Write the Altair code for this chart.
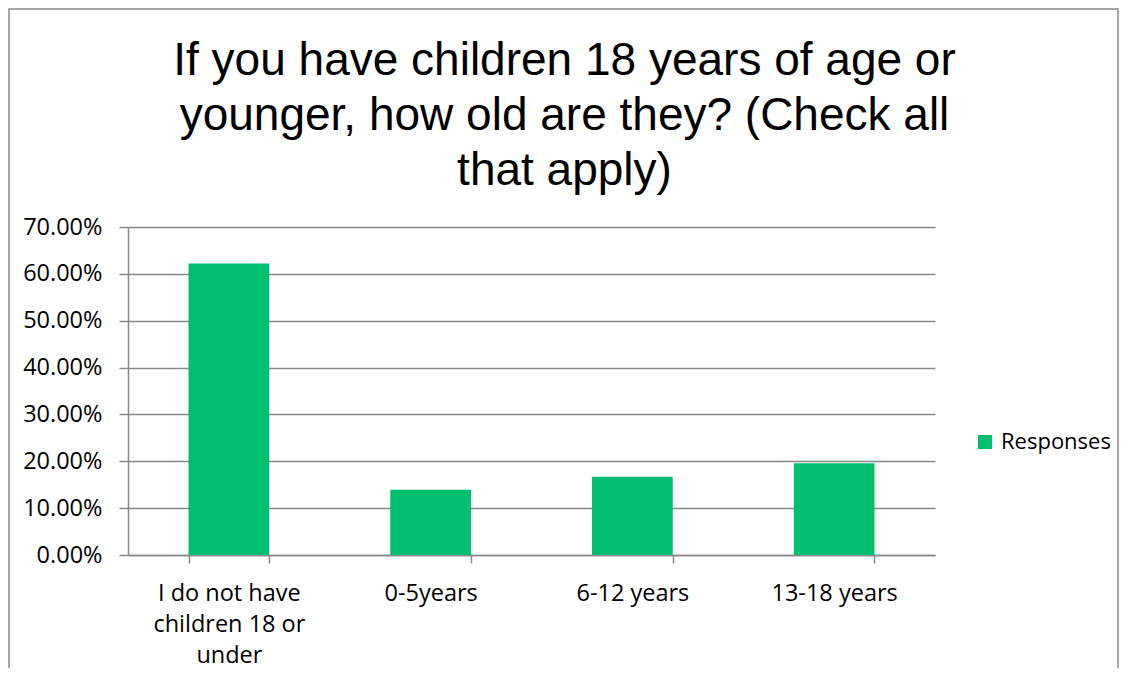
import altair as alt
import pandas as pd

categories = ["I do not have children 18 or under", "0-5years", "6-12 years", "13-18 years"]
values = [0.622, 0.139, 0.167, 0.196]
series = ["Responses"] * 4
y_ticks = [0, 0.1, 0.2, 0.3, 0.4, 0.5, 0.6, 0.7]
title_lines = ["If you have children 18 years of age or",
               "younger, how old are they? (Check all",
               "that apply)"]

df = pd.DataFrame({"category": categories, "value": values, "series": series})

GRAY = "#898989"
GREEN = "#00BF6F"
LBL_FONT = "Open Sans"

label_expr = ("datum.label == 'I do not have children 18 or under' ? "
              "['I do not have', 'children 18 or', 'under'] : datum.label")

frame = alt.Chart(alt.Data(values=[{"f": 1}])).mark_rect(
    fillOpacity=0, stroke=GRAY, strokeWidth=1.5
).encode(
    x=alt.value(-119), x2=alt.value(990), y=alt.value(-218), y2=alt.value(480)
)

bars = alt.Chart(df).mark_bar(color=GREEN).encode(
    x=alt.X("category:N", sort=categories, title=None,
            scale=alt.Scale(paddingInner=0.6, paddingOuter=0.3),
            axis=alt.Axis(labelAngle=0, labelExpr=label_expr,
                          labelFont=LBL_FONT, labelFontSize=23.5, labelColor="#000000",
                          labelLineHeight=31, labelPadding=18, tickSize=8,
                          tickBand="extent", tickColor=GRAY, tickWidth=1.5,
                          domainColor=GRAY, domainWidth=1.5, grid=False)),
    y=alt.Y("value:Q", title=None,
            scale=alt.Scale(domain=[0, 0.7], nice=False),
            axis=alt.Axis(values=y_ticks, format=".2%",
                          labelFont=LBL_FONT, labelFontSize=23.5, labelColor="#000000",
                          labelPadding=17, tickSize=9, tickColor=GRAY, tickWidth=1.5,
                          domainColor=GRAY, domainWidth=1.5,
                          grid=True, gridColor=GRAY, gridWidth=1.5)),
    color=alt.Color("series:N", title=None,
                    scale=alt.Scale(domain=["Responses"], range=[GREEN]),
                    legend=alt.Legend(orient="none", legendX=846, legendY=204,
                                      symbolType="square", symbolSize=196,
                                      symbolStrokeWidth=0,
                                      labelFont=LBL_FONT, labelFontSize=22,
                                      labelColor="#000000", labelOffset=5)),
)

chart = alt.layer(frame, bars).properties(
    width=807,
    height=328,
    autosize=alt.AutoSizeParams(type="none"),
    padding={"left": 120, "top": 219, "right": 184, "bottom": 113},
    title=alt.TitleParams(text=title_lines, font="Liberation Sans", fontSize=46,
                          fontWeight="normal", color="#000000", lineHeight=55,
                          anchor="middle", frame="group", dx=33, dy=217, offset=30),
).configure_view(stroke=None)

chart.save("out.html", embed_options={"renderer": "svg", "actions": False})
